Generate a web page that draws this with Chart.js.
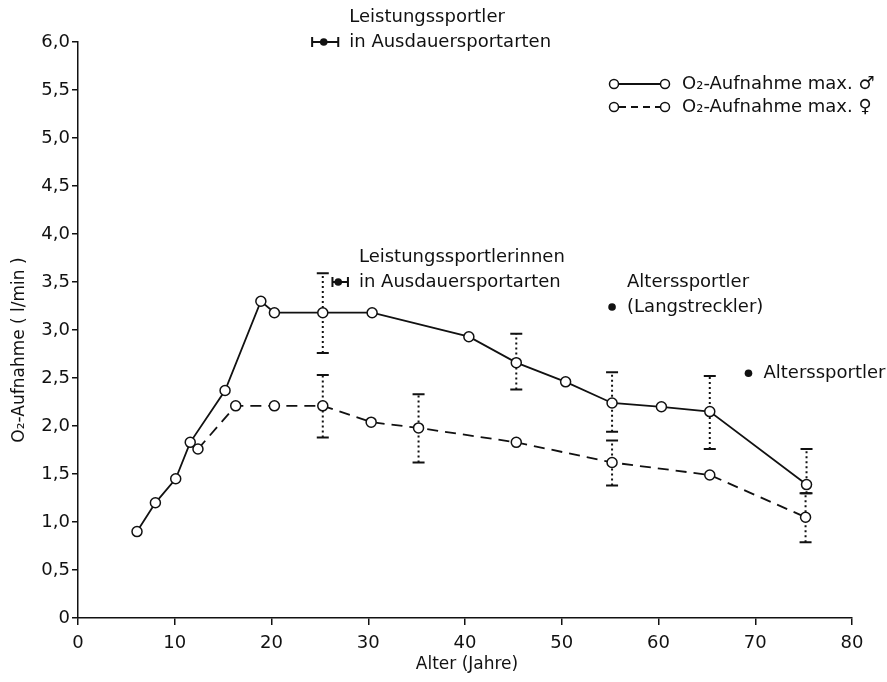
<!DOCTYPE html>
<html>
<head>
<meta charset="utf-8">
<script src="https://cdn.jsdelivr.net/npm/chart.js@4.4.0/dist/chart.umd.min.js"></script>
<style>
  html, body { margin: 0; padding: 0; background: #fff; }
  #wrap { width: 887px; height: 682px; }
</style>
</head>
<body>
<div id="wrap"><canvas id="chart"></canvas></div>
<script>
// mean values
var maleAge = [6.1, 8, 10.1, 11.6, 15.2, 18.9, 20.3, 25.3, 30.4, 40.4, 45.3, 50.4, 55.2, 60.3, 65.3, 75.3];
var maleO2 = [0.9, 1.2, 1.45, 1.83, 2.37, 3.3, 3.18, 3.18, 3.18, 2.93, 2.66, 2.46, 2.24, 2.2, 2.15, 1.39];
var femaleAge = [12.4, 16.3, 20.3, 25.3, 30.3, 35.2, 45.3, 55.2, 65.3, 75.2];
var femaleO2 = [1.76, 2.21, 2.21, 2.21, 2.04, 1.98, 1.83, 1.62, 1.49, 1.05];

// spread (dotted error bars)
var maleErrAge = [25.3, 45.3, 55.2, 65.3, 75.3];
var maleErrLow = [2.76, 2.38, 1.94, 1.76, 1.3];
var maleErrHigh = [3.59, 2.96, 2.56, 2.52, 1.76];
var femaleErrAge = [25.3, 35.2, 55.2, 75.2];
var femaleErrLow = [1.88, 1.62, 1.38, 0.79];
var femaleErrHigh = [2.53, 2.33, 1.85, 1.3];

// single athlete groups
var groupLabels = [
  ["Leistungssportler", "in Ausdauersportarten"],
  ["Leistungssportlerinnen", "in Ausdauersportarten"],
  ["Alterssportler", "(Langstreckler)"],
  ["Alterssportler"]
];
var groupAge = [25.4, 26.9, 55.2, 69.3];
var groupO2 = [6.0, 3.5, 3.24, 2.55];
var groupAgeLow = [24.2, 26.3, null, null];
var groupAgeHigh = [26.9, 27.9, null, null];

var legendLabels = ["O\u2082-Aufnahme max. \u2642", "O\u2082-Aufnahme max. \u2640"];

var xTicks = [0, 10, 20, 30, 40, 50, 60, 70, 80];
var yMax = 6;

function toPoints(xs, ys) {
  return xs.map(function (x, i) { return { x: x, y: ys[i] }; });
}

var ink = "#111";
var font = "'DejaVu Sans', sans-serif";

var extras = {
  id: "extras",
  beforeDatasetsDraw: function (chart) {
    var ctx = chart.ctx, xs = chart.scales.x, ys = chart.scales.y;
    ctx.save();
    ctx.strokeStyle = ink;
    function errBar(age, lo, hi) {
      var px = xs.getPixelForValue(age);
      var p1 = ys.getPixelForValue(lo), p2 = ys.getPixelForValue(hi);
      ctx.setLineDash([2, 3]);
      ctx.lineWidth = 2;
      ctx.beginPath(); ctx.moveTo(px, p1); ctx.lineTo(px, p2); ctx.stroke();
      ctx.setLineDash([]);
      ctx.beginPath();
      ctx.moveTo(px - 6, p1); ctx.lineTo(px + 6, p1);
      ctx.moveTo(px - 6, p2); ctx.lineTo(px + 6, p2);
      ctx.stroke();
    }
    maleErrAge.forEach(function (a, i) { errBar(a, maleErrLow[i], maleErrHigh[i]); });
    femaleErrAge.forEach(function (a, i) { errBar(a, femaleErrLow[i], femaleErrHigh[i]); });
    ctx.restore();
  },
  afterDatasetsDraw: function (chart) {
    var ctx = chart.ctx, xs = chart.scales.x, ys = chart.scales.y;
    ctx.save();
    ctx.strokeStyle = ink;
    ctx.fillStyle = ink;
    ctx.font = "18px " + font;
    ctx.textBaseline = "middle";
    ctx.textAlign = "left";

    // athlete groups
    groupAge.forEach(function (a, i) {
      var px = xs.getPixelForValue(a), py = ys.getPixelForValue(groupO2[i]);
      var textX = px + 15;
      if (groupAgeLow[i] !== null) {
        var l = xs.getPixelForValue(groupAgeLow[i]), r = xs.getPixelForValue(groupAgeHigh[i]);
        ctx.lineWidth = 2;
        ctx.beginPath();
        ctx.moveTo(l, py); ctx.lineTo(r, py);
        ctx.moveTo(l, py - 5); ctx.lineTo(l, py + 5);
        ctx.moveTo(r, py - 5); ctx.lineTo(r, py + 5);
        ctx.stroke();
        textX = r + 11;
      }
      ctx.beginPath(); ctx.arc(px, py, 3.8, 0, Math.PI * 2); ctx.fill();
      var lines = groupLabels[i];
      lines.forEach(function (t, k) {
        ctx.fillText(t, textX, py - (lines.length - 1 - k) * 25);
      });
    });

    // legend
    var lx = 614, rx = 665;
    [84, 107].forEach(function (ly, i) {
      ctx.lineWidth = 1.8;
      ctx.setLineDash(i === 0 ? [] : [7, 5]);
      ctx.beginPath(); ctx.moveTo(lx + 5, ly); ctx.lineTo(rx - 5, ly); ctx.stroke();
      ctx.setLineDash([]);
      ctx.lineWidth = 1.5;
      [lx, rx].forEach(function (cx) {
        ctx.beginPath(); ctx.arc(cx, ly, 4.5, 0, Math.PI * 2);
        ctx.fillStyle = "#fff"; ctx.fill(); ctx.stroke();
      });
      ctx.fillStyle = ink;
      ctx.fillText(legendLabels[i], 682, ly);
    });

    // axis titles
    ctx.font = "17px " + font;
    ctx.textAlign = "center";
    ctx.fillText("Alter (Jahre)", 467, 665);
    ctx.translate(20, 350);
    ctx.rotate(-Math.PI / 2);
    ctx.fillText("O\u2082-Aufnahme ( l/min )", 0, 0);
    ctx.restore();
  }
};

new Chart(document.getElementById("chart").getContext("2d"), {
  type: "scatter",
  data: {
    datasets: [
      {
        label: legendLabels[0],
        data: toPoints(maleAge, maleO2),
        showLine: true,
        borderColor: ink,
        borderWidth: 1.8,
        pointRadius: 5,
        pointBorderWidth: 1.5,
        pointBackgroundColor: "#fff",
        pointBorderColor: ink,
      },
      {
        label: legendLabels[1],
        data: toPoints(femaleAge, femaleO2),
        showLine: true,
        borderColor: ink,
        borderWidth: 1.8,
        borderDash: [11, 7],
        pointRadius: 5,
        pointBorderWidth: 1.5,
        pointBackgroundColor: "#fff",
        pointBorderColor: ink,
      },
    ],
  },
  options: {
    responsive: true,
    maintainAspectRatio: false,
    animation: false,
    layout: { padding: { left: 0, top: 42, right: 35, bottom: 0 } },
    plugins: {
      legend: { display: false },
      tooltip: { enabled: false },
    },
    scales: {
      x: {
        type: "linear",
        min: xTicks[0],
        max: xTicks[xTicks.length - 1],
        afterFit: function (s) { s.height = 64; },
        afterBuildTicks: function (s) { s.ticks = xTicks.map(function (v) { return { value: v }; }); },
        grid: { drawOnChartArea: false, drawTicks: true, tickLength: 7, color: ink, lineWidth: 1.5 },
        border: { display: true, color: ink, width: 1.5 },
        ticks: { color: ink, padding: 8, font: { size: 18, family: font } },
      },
      y: {
        min: 0,
        max: yMax,
        afterFit: function (s) { s.width = 78; },
        grid: { drawOnChartArea: false, drawTicks: true, tickLength: 6, color: ink, lineWidth: 1.5 },
        border: { display: true, color: ink, width: 1.5 },
        ticks: {
          stepSize: 0.5,
          color: ink,
          padding: 2,
          font: { size: 18, family: font },
          callback: function (v) { return v === 0 ? "0" : v.toFixed(1).replace(".", ","); },
        },
      },
    },
  },
  plugins: [extras],
});
</script>
</body>
</html>
